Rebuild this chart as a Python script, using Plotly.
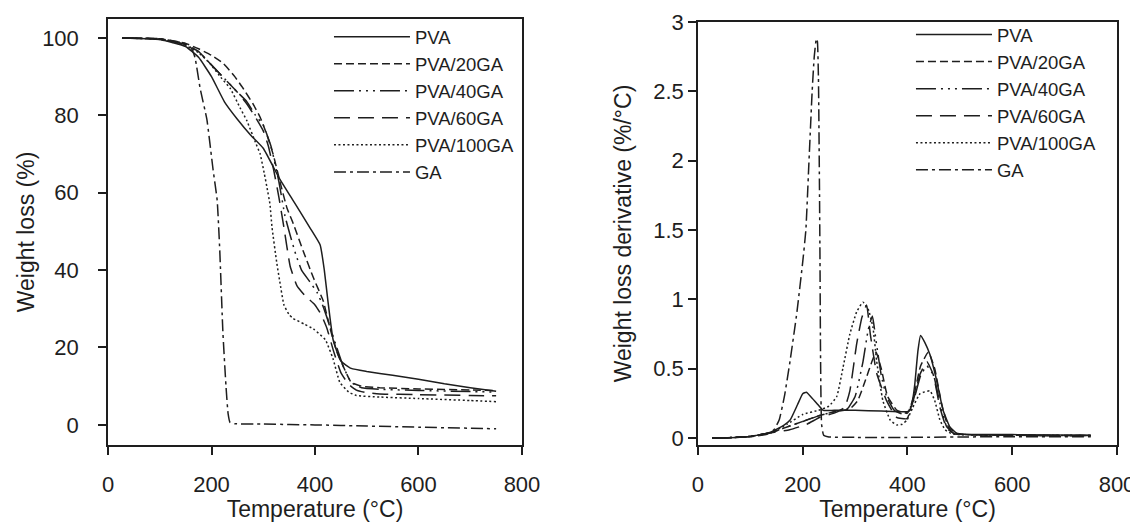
import plotly.graph_objects as go

names = ["PVA", "PVA/20GA", "PVA/40GA", "PVA/60GA", "PVA/100GA", "GA"]

# ---- TGA: weight loss (%) vs temperature ----
tga_pva_t = [27, 100, 150, 175, 200, 225, 250, 275, 300, 330, 360, 390, 410, 418, 425, 435, 450, 470, 500, 550, 600, 650, 700, 750]
tga_pva_w = [100, 99.6, 97.8, 95, 90, 83.5, 79, 75, 71.5, 64, 57.5, 51, 46.5, 40, 32, 22, 16.5, 14.6, 13.8, 12.8, 11.8, 10.6, 9.6, 8.7]

tga_20_t = [27, 100, 150, 175, 200, 223, 245, 261, 280, 294, 307, 319, 332, 346, 358, 377, 397, 416, 429, 442, 455, 470, 490, 525, 600, 700, 750]
tga_20_w = [100, 99.8, 98.6, 97.2, 95.5, 93.4, 90, 87, 83, 79.5, 75, 70, 63, 56, 52, 45, 38, 32, 25, 19, 15, 11, 10, 9.6, 9.3, 9.0, 8.9]

tga_40_t = [27, 100, 150, 175, 200, 225, 250, 268, 285, 300, 315, 330, 342, 352, 363, 374, 390, 405, 416, 430, 442, 455, 470, 490, 525, 600, 700, 750]
tga_40_w = [100, 99.7, 98.3, 96.5, 93, 89.5, 86, 83.6, 80, 77.5, 72, 63, 54, 49, 44, 40, 37, 34, 30.5, 25, 20, 15, 11, 9.6, 9.2, 8.9, 8.6, 8.5]

tga_60_t = [27, 100, 150, 175, 200, 225, 250, 268, 285, 300, 310, 320, 330, 340, 352, 365, 380, 400, 412, 423, 436, 450, 465, 480, 500, 525, 600, 700, 750]
tga_60_w = [100, 99.7, 98.3, 96.5, 93, 89.5, 86, 83, 79.5, 76, 72, 66, 59, 51, 41, 36, 33.5, 31, 28.5, 25, 19, 13.5, 10.5, 9, 8.3, 8, 7.8, 7.6, 7.5]

tga_100_t = [27, 100, 150, 175, 197, 220, 236, 255, 268, 285, 294, 302, 307, 313, 317, 326, 332, 340, 350, 358, 380, 397, 420, 435, 448, 465, 480, 525, 600, 700, 750]
tga_100_w = [100, 99.6, 98, 96.2, 93.4, 89.5, 87, 82, 78.7, 73, 70, 65, 61.5, 57, 51, 42, 37, 31, 28.5, 27.5, 26, 24.8, 22, 17, 11, 8.5, 7.6, 7.2, 6.8, 6.3, 6.0]

tga_ga_t = [27, 100, 150, 160, 168, 178, 191, 203, 211, 216, 222, 228, 232, 236, 245, 300, 400, 500, 600, 750]
tga_ga_w = [100, 99.8, 98.5, 97.5, 95, 87, 79, 66, 58, 45, 24, 10, 3, 0.6, 0.3, 0.2, 0, -0.3, -0.6, -1.0]

# ---- DTG: weight loss derivative (%/°C) vs temperature ----
dtg_pva_t = [27, 60, 100, 137, 163, 176, 190, 200, 207, 215, 227, 239, 260, 300, 350, 399, 405, 410, 414, 420, 425, 433, 443, 456, 468, 481, 494, 510, 600, 750]
dtg_pva_d = [0, 0.003, 0.012, 0.04, 0.09, 0.13, 0.24, 0.32, 0.33, 0.3, 0.25, 0.2, 0.2, 0.2, 0.195, 0.19, 0.2, 0.28, 0.39, 0.63, 0.74, 0.69, 0.6, 0.41, 0.2, 0.08, 0.035, 0.028, 0.025, 0.02]

dtg_20_t = [27, 60, 100, 140, 170, 200, 230, 260, 290, 305, 320, 332, 340, 350, 362, 380, 400, 412, 425, 440, 452, 465, 478, 495, 510, 600, 750]
dtg_20_d = [0, 0.003, 0.012, 0.04, 0.08, 0.12, 0.16, 0.19, 0.21, 0.27, 0.42, 0.55, 0.62, 0.5, 0.3, 0.2, 0.18, 0.3, 0.52, 0.62, 0.5, 0.25, 0.08, 0.03, 0.025, 0.02, 0.018]

dtg_40_t = [27, 60, 100, 140, 170, 200, 230, 260, 285, 300, 315, 325, 333, 340, 350, 360, 375, 395, 410, 425, 437, 450, 462, 475, 490, 510, 600, 750]
dtg_40_d = [0, 0.003, 0.012, 0.04, 0.08, 0.12, 0.16, 0.19, 0.21, 0.3, 0.55, 0.78, 0.88, 0.7, 0.45, 0.3, 0.2, 0.17, 0.25, 0.45, 0.52, 0.45, 0.25, 0.08, 0.03, 0.025, 0.02, 0.018]

dtg_60_t = [27, 60, 100, 143, 175, 208, 233, 260, 280, 290, 303, 313, 322, 329, 341, 360, 379, 399, 411, 424, 437, 449, 462, 475, 490, 510, 600, 750]
dtg_60_d = [0, 0.003, 0.012, 0.04, 0.06, 0.1, 0.15, 0.18, 0.22, 0.34, 0.68, 0.87, 0.96, 0.75, 0.47, 0.27, 0.15, 0.14, 0.27, 0.46, 0.55, 0.46, 0.22, 0.07, 0.03, 0.025, 0.02, 0.018]

dtg_100_t = [27, 60, 100, 140, 170, 200, 230, 250, 265, 277, 290, 303, 315, 325, 334, 341, 353, 367, 379, 390, 399, 410, 424, 443, 452, 462, 472, 485, 500, 600, 750]
dtg_100_d = [0, 0.003, 0.012, 0.04, 0.1, 0.17, 0.2, 0.23, 0.3, 0.51, 0.75, 0.91, 0.98, 0.93, 0.8, 0.56, 0.27, 0.13, 0.095, 0.1, 0.13, 0.22, 0.32, 0.34, 0.27, 0.13, 0.06, 0.03, 0.025, 0.02, 0.018]

dtg_ga_t = [27, 50, 100, 130, 145, 155, 165, 176, 189, 200, 206, 212, 218, 222, 226, 228, 230, 232, 233, 234, 236, 240, 250, 300, 400, 500, 600, 750]
dtg_ga_d = [0, 0.002, 0.01, 0.025, 0.06, 0.13, 0.3, 0.56, 0.91, 1.27, 1.5, 2.0, 2.5, 2.75, 2.88, 2.86, 2.6, 1.8, 1.27, 0.6, 0.1, 0.02, 0.008, 0.005, 0.005, 0.008, 0.01, 0.01]

tga = [(tga_pva_t, tga_pva_w), (tga_20_t, tga_20_w), (tga_40_t, tga_40_w),
       (tga_60_t, tga_60_w), (tga_100_t, tga_100_w), (tga_ga_t, tga_ga_w)]
dtg = [(dtg_pva_t, dtg_pva_d), (dtg_20_t, dtg_20_d), (dtg_40_t, dtg_40_d),
       (dtg_60_t, dtg_60_d), (dtg_100_t, dtg_100_d), (dtg_ga_t, dtg_ga_d)]

dashes = ["solid", "8px,4px", "20px,5px,2px,5px,2px,5px,2px,5px", "16px,8px", "2px,2.5px", "12px,4px,3px,4px"]
INK = "#1e1e1e"
FONT = "Arial, Liberation Sans, sans-serif"

fig = go.Figure()
for i, (t, w) in enumerate(tga):
    fig.add_trace(go.Scatter(x=t, y=w, mode="lines", name=names[i],
                             line=dict(color=INK, width=1.5, dash=dashes[i], shape="spline", smoothing=0.4),
                             xaxis="x", yaxis="y", legend="legend", legendgroup="L%d" % i))
for i, (t, d) in enumerate(dtg):
    fig.add_trace(go.Scatter(x=t, y=d, mode="lines", name=names[i],
                             line=dict(color=INK, width=1.5, dash=dashes[i], shape="spline", smoothing=0.4),
                             xaxis="x2", yaxis="y2", legend="legend2", legendgroup="R%d" % i))

axis_common = dict(showline=True, linecolor=INK, linewidth=1.5, mirror=True,
                   ticks="outside", ticklen=8, tickwidth=1.5, tickcolor=INK,
                   showgrid=False, zeroline=False, automargin=False,
                   tickfont=dict(family=FONT, size=22, color=INK))
title_font = dict(family=FONT, size=23, color=INK)

legend_common = dict(font=dict(family=FONT, size=18.5, color=INK), bgcolor="rgba(0,0,0,0)",
                     borderwidth=0, itemwidth=76, tracegroupgap=0, traceorder="grouped",
                     xanchor="left", yanchor="top", itemclick=False, itemdoubleclick=False)

# page body has an 8px margin, so the figure is sized to fit inside the window
fig.update_layout(
    width=1130, height=514,
    margin=dict(l=100, r=21, t=8, b=77, autoexpand=False),
    paper_bgcolor="white", plot_bgcolor="white",
    font=dict(family=FONT, color=INK),
    xaxis=dict(domain=[0, 0.4103], range=[0, 800], dtick=200, tick0=0, anchor="y", ticklabelstandoff=11,
               title=dict(text="Temperature (°C)", font=title_font, standoff=0), **axis_common),
    yaxis=dict(domain=[0, 0.993], range=[-5.2, 104.9], dtick=20, tick0=0, anchor="x", ticklabelstandoff=15,
               title=dict(text="Weight loss (%)", font=title_font, standoff=1), **axis_common),
    xaxis2=dict(domain=[0.5847, 1], range=[0, 800], dtick=200, tick0=0, anchor="y2", ticklabelstandoff=11,
                title=dict(text="Temperature (°C)", font=title_font, standoff=0), **axis_common),
    yaxis2=dict(domain=[0, 0.986], range=[-0.05, 3], dtick=0.5, tick0=0, anchor="x2", ticklabelstandoff=0,
                title=dict(text="Weight loss derivative (%/°C)", font=title_font, standoff=15), **axis_common),
    legend=dict(x=0.219, y=0.995, **legend_common),
    legend2=dict(x=0.7958, y=1.0, **legend_common),
    showlegend=True,
)

fig.write_html("out.html")
